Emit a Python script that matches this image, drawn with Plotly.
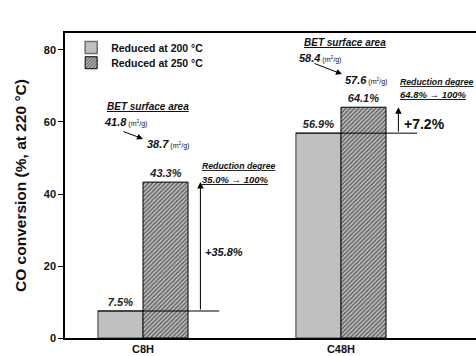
import plotly.graph_objects as go

categories = ["C8H", "C48H"]
conv_200 = [7.5, 56.9]
conv_250 = [43.3, 64.1]
bet_200 = [41.8, 58.4]
bet_250 = [38.7, 57.6]
red_deg_200 = [35.0, 64.8]
red_deg_250 = [100, 100]
series_names = ["Reduced at 200 °C", "Reduced at 250 °C"]
y_ticks = [0, 20, 40, 60, 80]

FONT = "Liberation Sans, Arial, sans-serif"
xs = list(range(len(categories)))

fig = go.Figure()
fig.add_trace(go.Bar(
    x=xs, y=conv_200, name=series_names[0], legend="legend",
    marker=dict(color="#c0c0c0", line=dict(color="#6e6e6e", width=1.5)),
    text=[f"{v}%" for v in conv_200], textposition="outside",
    textfont=dict(family=FONT, size=11, color="#222", weight="bold", style="italic"),
    cliponaxis=False,
))
fig.add_trace(go.Bar(
    x=xs, y=conv_250, name=series_names[1], legend="legend2",
    marker=dict(color="#c4c4c4", line=dict(color="black", width=1),
                pattern=dict(shape="/", fgcolor="black", bgcolor="#c4c4c4", size=3, solidity=0.5)),
    text=[f"{v}%" for v in conv_250], textposition="outside",
    textfont=dict(family=FONT, size=11, color="#222", weight="bold", style="italic"),
    cliponaxis=False,
))

arrow_dx = 0.29
line_end_dx = 0.385
half_w = 0.227

anns = []
shapes = []
bet_pos = [
    dict(tx=0.025, ty=64.2, ax0=-0.207, ay0=60.0, a1=(-0.106, 57.5), a2=(0.0, 55.3), bx=0.01, by=53.9),
    dict(tx=1.02, ty=82.2, ax0=0.778, ay0=77.8, a1=(0.859, 76.4), a2=(1.005, 73.3), bx=1.01, by=71.7),
]
red_pos = [(0.288, 47.8, 43.9), (1.288, 71.1, 67.5)]
inc_pos = [(0.303, 23.9, 11, "italic"), (1.308, 59.4, 14, "normal")]
unit = "<span style='font-size:7px;font-weight:normal;font-style:normal'> (m<sup>2</sup>/g)</span>"

for i, c in enumerate(categories):
    p = bet_pos[i]
    anns.append(dict(x=p["tx"], y=p["ty"], xref="x", yref="y", text="<u>BET surface area</u>",
                     showarrow=False, xanchor="center", yanchor="middle",
                     font=dict(family=FONT, size=10, color="#111", weight="bold", style="italic")))
    anns.append(dict(x=p["ax0"], y=p["ay0"], xref="x", yref="y", text=f"{bet_200[i]}{unit}",
                     showarrow=False, xanchor="left", yanchor="middle",
                     font=dict(family=FONT, size=11, color="#111", weight="bold", style="italic")))
    anns.append(dict(x=p["bx"], y=p["by"], xref="x", yref="y", text=f"{bet_250[i]}{unit}",
                     showarrow=False, xanchor="left", yanchor="middle",
                     font=dict(family=FONT, size=11, color="#111", weight="bold", style="italic")))
    anns.append(dict(x=p["a2"][0], y=p["a2"][1], ax=p["a1"][0], ay=p["a1"][1], xref="x", yref="y",
                     axref="x", ayref="y", text="", showarrow=True, arrowhead=2, arrowsize=1.2,
                     arrowwidth=1, arrowcolor="black"))
    rx, ry1, ry2 = red_pos[i]
    anns.append(dict(x=rx, y=ry1, xref="x", yref="y", text="<u>Reduction degree</u>",
                     showarrow=False, xanchor="left", yanchor="middle",
                     font=dict(family=FONT, size=8.7, color="#111", weight="bold", style="italic")))
    anns.append(dict(x=rx, y=ry2, xref="x", yref="y",
                     text=f"<u>{red_deg_200[i]:.1f}% → {red_deg_250[i]}%</u>",
                     showarrow=False, xanchor="left", yanchor="middle",
                     font=dict(family=FONT, size=9.5, color="#111", weight="bold", style="italic")))
    anns.append(dict(x=i + arrow_dx, y=conv_250[i], ax=i + arrow_dx, ay=conv_200[i], xref="x", yref="y",
                     axref="x", ayref="y", text="", showarrow=True, arrowhead=2, arrowsize=1.3,
                     arrowwidth=1, arrowcolor="black", standoff=0))
    ix, iy, isz, ist = inc_pos[i]
    inc = conv_250[i] - conv_200[i]
    anns.append(dict(x=ix, y=iy, xref="x", yref="y", text=f"+{inc:.1f}%",
                     showarrow=False, xanchor="left", yanchor="middle",
                     font=dict(family=FONT, size=isz, color="#111", weight="bold", style=ist)))
    shapes.append(dict(type="line", xref="x", yref="y", x0=i - half_w, x1=i + line_end_dx,
                       y0=conv_200[i], y1=conv_200[i], line=dict(color="black", width=1)))

legend_font = dict(family=FONT, size=10.5, color="#111", weight="bold")
fig.update_layout(
    width=476, height=356,
    margin=dict(l=65, r=0, t=33, b=18),
    plot_bgcolor="white", paper_bgcolor="white",
    barmode="group", bargap=0.545, bargroupgap=0,
    font=dict(family=FONT, color="#111"),
    showlegend=True,
    legend=dict(x=0.015, y=1.0, xanchor="left", yanchor="top", bgcolor="rgba(0,0,0,0)",
                font=legend_font, itemwidth=30),
    legend2=dict(x=0.015, y=0.95, xanchor="left", yanchor="top", bgcolor="rgba(0,0,0,0)",
                 font=legend_font, itemwidth=30),
    annotations=anns, shapes=shapes,
)
fig.update_xaxes(range=[-0.394, 1.682], tickmode="array", tickvals=xs, ticktext=categories,
                 showline=True, linecolor="black", linewidth=1.5, mirror=True,
                 ticks="", tickfont=dict(family=FONT, size=11, color="#111", weight="bold"),
                 showgrid=False, zeroline=False)
fig.update_yaxes(range=[0, 84.72], tickmode="array", tickvals=y_ticks,
                 showline=True, linecolor="black", linewidth=1.5,
                 ticks="outside", ticklen=5, tickwidth=1, tickcolor="black",
                 tickfont=dict(family=FONT, size=11, color="#111", weight="bold"),
                 showgrid=False, zeroline=False,
                 title=dict(text="CO conversion (%, at 220 °C)", standoff=13,
                            font=dict(family=FONT, size=15.5, color="#111", weight="bold")))

fig.write_html("out.html", config={"displayModeBar": False},
               post_script="document.body.style.margin='0';document.body.style.overflow='hidden';")
